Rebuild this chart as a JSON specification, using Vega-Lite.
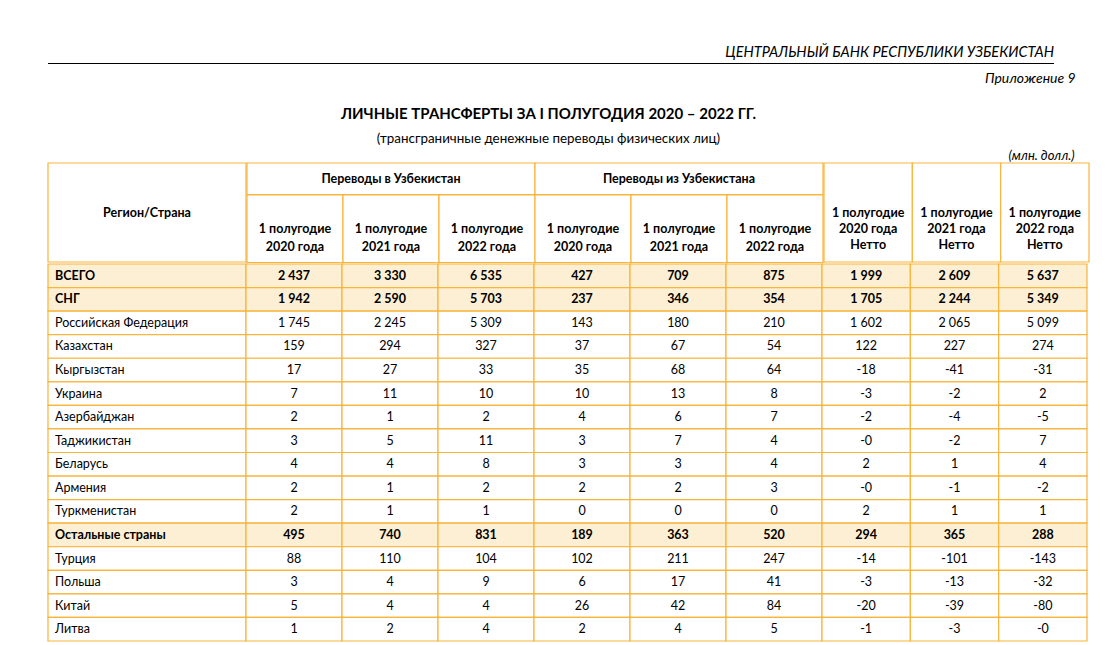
{
  "$schema": "https://vega.github.io/schema/vega-lite/v6.json",
  "padding": {"left": 47, "top": 44, "right": 0, "bottom": 0},
  "background": "white",
  "config": {
    "view": {"stroke": null},
    "font": "Lato",
    "text": {"color": "black"},
    "rect": {"stroke": "#F9B43A", "strokeWidth": 1.2},
    "title": {"color": "black", "subtitleColor": "black", "font": "Lato", "subtitleFont": "Lato"}
  },
  "datasets": {
    "table": [
      {"region": "ВСЕГО", "level": "итог", "in2020": "2 437", "in2021": "3 330", "in2022": "6 535", "out2020": "427", "out2021": "709", "out2022": "875", "net2020": "1 999", "net2021": "2 609", "net2022": "5 637"},
      {"region": "СНГ", "level": "итог", "in2020": "1 942", "in2021": "2 590", "in2022": "5 703", "out2020": "237", "out2021": "346", "out2022": "354", "net2020": "1 705", "net2021": "2 244", "net2022": "5 349"},
      {"region": "Российская Федерация", "level": "страна", "in2020": "1 745", "in2021": "2 245", "in2022": "5 309", "out2020": "143", "out2021": "180", "out2022": "210", "net2020": "1 602", "net2021": "2 065", "net2022": "5 099"},
      {"region": "Казахстан", "level": "страна", "in2020": "159", "in2021": "294", "in2022": "327", "out2020": "37", "out2021": "67", "out2022": "54", "net2020": "122", "net2021": "227", "net2022": "274"},
      {"region": "Кыргызстан", "level": "страна", "in2020": "17", "in2021": "27", "in2022": "33", "out2020": "35", "out2021": "68", "out2022": "64", "net2020": "-18", "net2021": "-41", "net2022": "-31"},
      {"region": "Украина", "level": "страна", "in2020": "7", "in2021": "11", "in2022": "10", "out2020": "10", "out2021": "13", "out2022": "8", "net2020": "-3", "net2021": "-2", "net2022": "2"},
      {"region": "Азербайджан", "level": "страна", "in2020": "2", "in2021": "1", "in2022": "2", "out2020": "4", "out2021": "6", "out2022": "7", "net2020": "-2", "net2021": "-4", "net2022": "-5"},
      {"region": "Таджикистан", "level": "страна", "in2020": "3", "in2021": "5", "in2022": "11", "out2020": "3", "out2021": "7", "out2022": "4", "net2020": "-0", "net2021": "-2", "net2022": "7"},
      {"region": "Беларусь", "level": "страна", "in2020": "4", "in2021": "4", "in2022": "8", "out2020": "3", "out2021": "3", "out2022": "4", "net2020": "2", "net2021": "1", "net2022": "4"},
      {"region": "Армения", "level": "страна", "in2020": "2", "in2021": "1", "in2022": "2", "out2020": "2", "out2021": "2", "out2022": "3", "net2020": "-0", "net2021": "-1", "net2022": "-2"},
      {"region": "Туркменистан", "level": "страна", "in2020": "2", "in2021": "1", "in2022": "1", "out2020": "0", "out2021": "0", "out2022": "0", "net2020": "2", "net2021": "1", "net2022": "1"},
      {"region": "Остальные страны", "level": "итог", "in2020": "495", "in2021": "740", "in2022": "831", "out2020": "189", "out2021": "363", "out2022": "520", "net2020": "294", "net2021": "365", "net2022": "288"},
      {"region": "Турция", "level": "страна", "in2020": "88", "in2021": "110", "in2022": "104", "out2020": "102", "out2021": "211", "out2022": "247", "net2020": "-14", "net2021": "-101", "net2022": "-143"},
      {"region": "Польша", "level": "страна", "in2020": "3", "in2021": "4", "in2022": "9", "out2020": "6", "out2021": "17", "out2022": "41", "net2020": "-3", "net2021": "-13", "net2022": "-32"},
      {"region": "Китай", "level": "страна", "in2020": "5", "in2021": "4", "in2022": "4", "out2020": "26", "out2021": "42", "out2022": "84", "net2020": "-20", "net2021": "-39", "net2022": "-80"},
      {"region": "Литва", "level": "страна", "in2020": "1", "in2021": "2", "in2022": "4", "out2020": "2", "out2021": "4", "out2022": "5", "net2020": "-1", "net2021": "-3", "net2022": "-0"}
    ],
    "regionHead": [{"label": "Регион/Страна"}],
    "groups": [{"grp": "Переводы в Узбекистан"}, {"grp": "Переводы из Узбекистана"}],
    "subcols": [
      {"col": "in2020", "label": "1 полугодие\n2020 года"},
      {"col": "in2021", "label": "1 полугодие\n2021 года"},
      {"col": "in2022", "label": "1 полугодие\n2022 года"},
      {"col": "out2020", "label": "1 полугодие\n2020 года"},
      {"col": "out2021", "label": "1 полугодие\n2021 года"},
      {"col": "out2022", "label": "1 полугодие\n2022 года"}
    ],
    "netcols": [
      {"col": "net2020", "label": "1 полугодие\n2020 года\nНетто"},
      {"col": "net2021", "label": "1 полугодие\n2021 года\nНетто"},
      {"col": "net2022", "label": "1 полугодие\n2022 года\nНетто"}
    ]
  },
  "spacing": 8,
  "vconcat": [
    {
      "data": {"values": []},
      "mark": "point",
      "encoding": {},
      "width": 1006,
      "height": 1,
      "view": {"fill": "black", "stroke": null},
      "title": {"text": "ЦЕНТРАЛЬНЫЙ БАНК РЕСПУБЛИКИ УЗБЕКИСТАН", "anchor": "end", "fontStyle": "italic", "fontWeight": "normal", "fontSize": 14.5, "offset": 3}
    },
    {
      "title": {"text": "Приложение 9", "anchor": "end", "dx": -14, "fontStyle": "italic", "fontWeight": "normal", "fontSize": 14, "offset": 23, "dy": 2},
      "vconcat": [
        {
          "title": {
            "text": "ЛИЧНЫЕ ТРАНСФЕРТЫ ЗА I ПОЛУГОДИЯ 2020 – 2022 ГГ.",
            "subtitle": "(трансграничные денежные переводы физических лиц)",
            "anchor": "middle", "dx": -20, "fontSize": 15, "fontWeight": "bold",
            "subtitleFontSize": 13.4, "subtitlePadding": 10, "offset": 5
          },
          "spacing": -1.2,
          "vconcat": [
            {
              "title": {"text": "(млн. долл.)", "anchor": "end", "dx": -15, "fontStyle": "italic", "fontWeight": "normal", "fontSize": 13, "offset": -1},
              "spacing": -1.2,
              "hconcat": [
                {
                  "data": {"name": "regionHead"},
                  "width": 198,
                  "height": 99,
                  "layer": [
                    {"mark": {"type": "rect", "fill": "white"}, "encoding": {}},
                    {"mark": {"type": "text", "fontWeight": "bold", "fontSize": 12.5}, "encoding": {"text": {"field": "label"}}}
                  ]
                },
                {
                  "spacing": 0,
                  "bounds": "flush",
                  "vconcat": [
                    {
                      "data": {"name": "groups"},
                      "width": 576,
                      "height": 31.5,
                      "encoding": {"x": {"field": "grp", "type": "nominal", "sort": null, "axis": null, "scale": {"paddingInner": 0, "paddingOuter": 0}}},
                      "layer": [
                        {"mark": {"type": "rect", "fill": "white"}},
                        {"mark": {"type": "text", "fontWeight": "bold", "fontSize": 12.5}, "encoding": {"text": {"field": "grp"}}}
                      ]
                    },
                    {
                      "data": {"name": "subcols"},
                      "width": 576,
                      "height": 67.5,
                      "encoding": {"x": {"field": "col", "type": "nominal", "sort": null, "axis": null, "scale": {"paddingInner": 0, "paddingOuter": 0}}},
                      "layer": [
                        {"mark": {"type": "rect", "fill": "white"}},
                        {"mark": {"type": "text", "fontWeight": "bold", "fontSize": 12.5, "lineBreak": "\n", "lineHeight": 18}, "encoding": {"text": {"field": "label"}}}
                      ]
                    }
                  ]
                },
                {
                  "data": {"name": "netcols"},
                  "width": 265,
                  "height": 99,
                  "encoding": {"x": {"field": "col", "type": "nominal", "sort": null, "axis": null, "scale": {"paddingInner": 0, "paddingOuter": 0}}},
                  "layer": [
                    {"mark": {"type": "rect", "fill": "white"}},
                    {"mark": {"type": "text", "fontWeight": "bold", "fontSize": 12.5, "lineBreak": "\n", "lineHeight": 16}, "encoding": {"text": {"field": "label"}}}
                  ]
                }
              ]
            },
            {
              "spacing": 0,
              "bounds": "flush",
              "hconcat": [
                {
                  "data": {"name": "table"},
                  "width": 198,
                  "height": 377,
                  "encoding": {"y": {"field": "region", "type": "nominal", "sort": null, "axis": null, "scale": {"paddingInner": 0, "paddingOuter": 0}}},
                  "layer": [
                    {"mark": {"type": "rect"},
                     "encoding": {"fill": {"condition": {"test": "datum.level === 'итог'", "value": "#FDEFD3"}, "value": "white"}}},
                    {"mark": {"type": "text", "align": "left", "dx": 7, "fontSize": 12.5, "fontWeight": {"expr": "datum.level === 'итог' ? 'bold' : 'normal'"}},
                     "encoding": {"x": {"value": 0}, "text": {"field": "region"}}}
                  ]
                },
                {
                  "data": {"name": "table"},
                  "transform": [{"fold": ["in2020", "in2021", "in2022", "out2020", "out2021", "out2022"], "as": ["col", "val"]}],
                  "width": 576,
                  "height": 377,
                  "encoding": {
                    "x": {"field": "col", "type": "nominal", "sort": null, "axis": null, "scale": {"paddingInner": 0, "paddingOuter": 0}},
                    "y": {"field": "region", "type": "nominal", "sort": null, "axis": null, "scale": {"paddingInner": 0, "paddingOuter": 0}}
                  },
                  "layer": [
                    {"mark": {"type": "rect"},
                     "encoding": {"fill": {"condition": {"test": "datum.level === 'итог'", "value": "#FDEFD3"}, "value": "white"}}},
                    {"mark": {"type": "text", "fontSize": 12.5, "fontWeight": {"expr": "datum.level === 'итог' ? 'bold' : 'normal'"}},
                     "encoding": {"text": {"field": "val"}}}
                  ]
                },
                {
                  "data": {"name": "table"},
                  "transform": [{"fold": ["net2020", "net2021", "net2022"], "as": ["col", "val"]}],
                  "width": 265,
                  "height": 377,
                  "encoding": {
                    "x": {"field": "col", "type": "nominal", "sort": null, "axis": null, "scale": {"paddingInner": 0, "paddingOuter": 0}},
                    "y": {"field": "region", "type": "nominal", "sort": null, "axis": null, "scale": {"paddingInner": 0, "paddingOuter": 0}}
                  },
                  "layer": [
                    {"mark": {"type": "rect"},
                     "encoding": {"fill": {"condition": {"test": "datum.level === 'итог'", "value": "#FDEFD3"}, "value": "white"}}},
                    {"mark": {"type": "text", "fontSize": 12.5, "fontWeight": {"expr": "datum.level === 'итог' ? 'bold' : 'normal'"}},
                     "encoding": {"text": {"field": "val"}}}
                  ]
                }
              ]
            }
          ]
        }
      ]
    }
  ]
}
